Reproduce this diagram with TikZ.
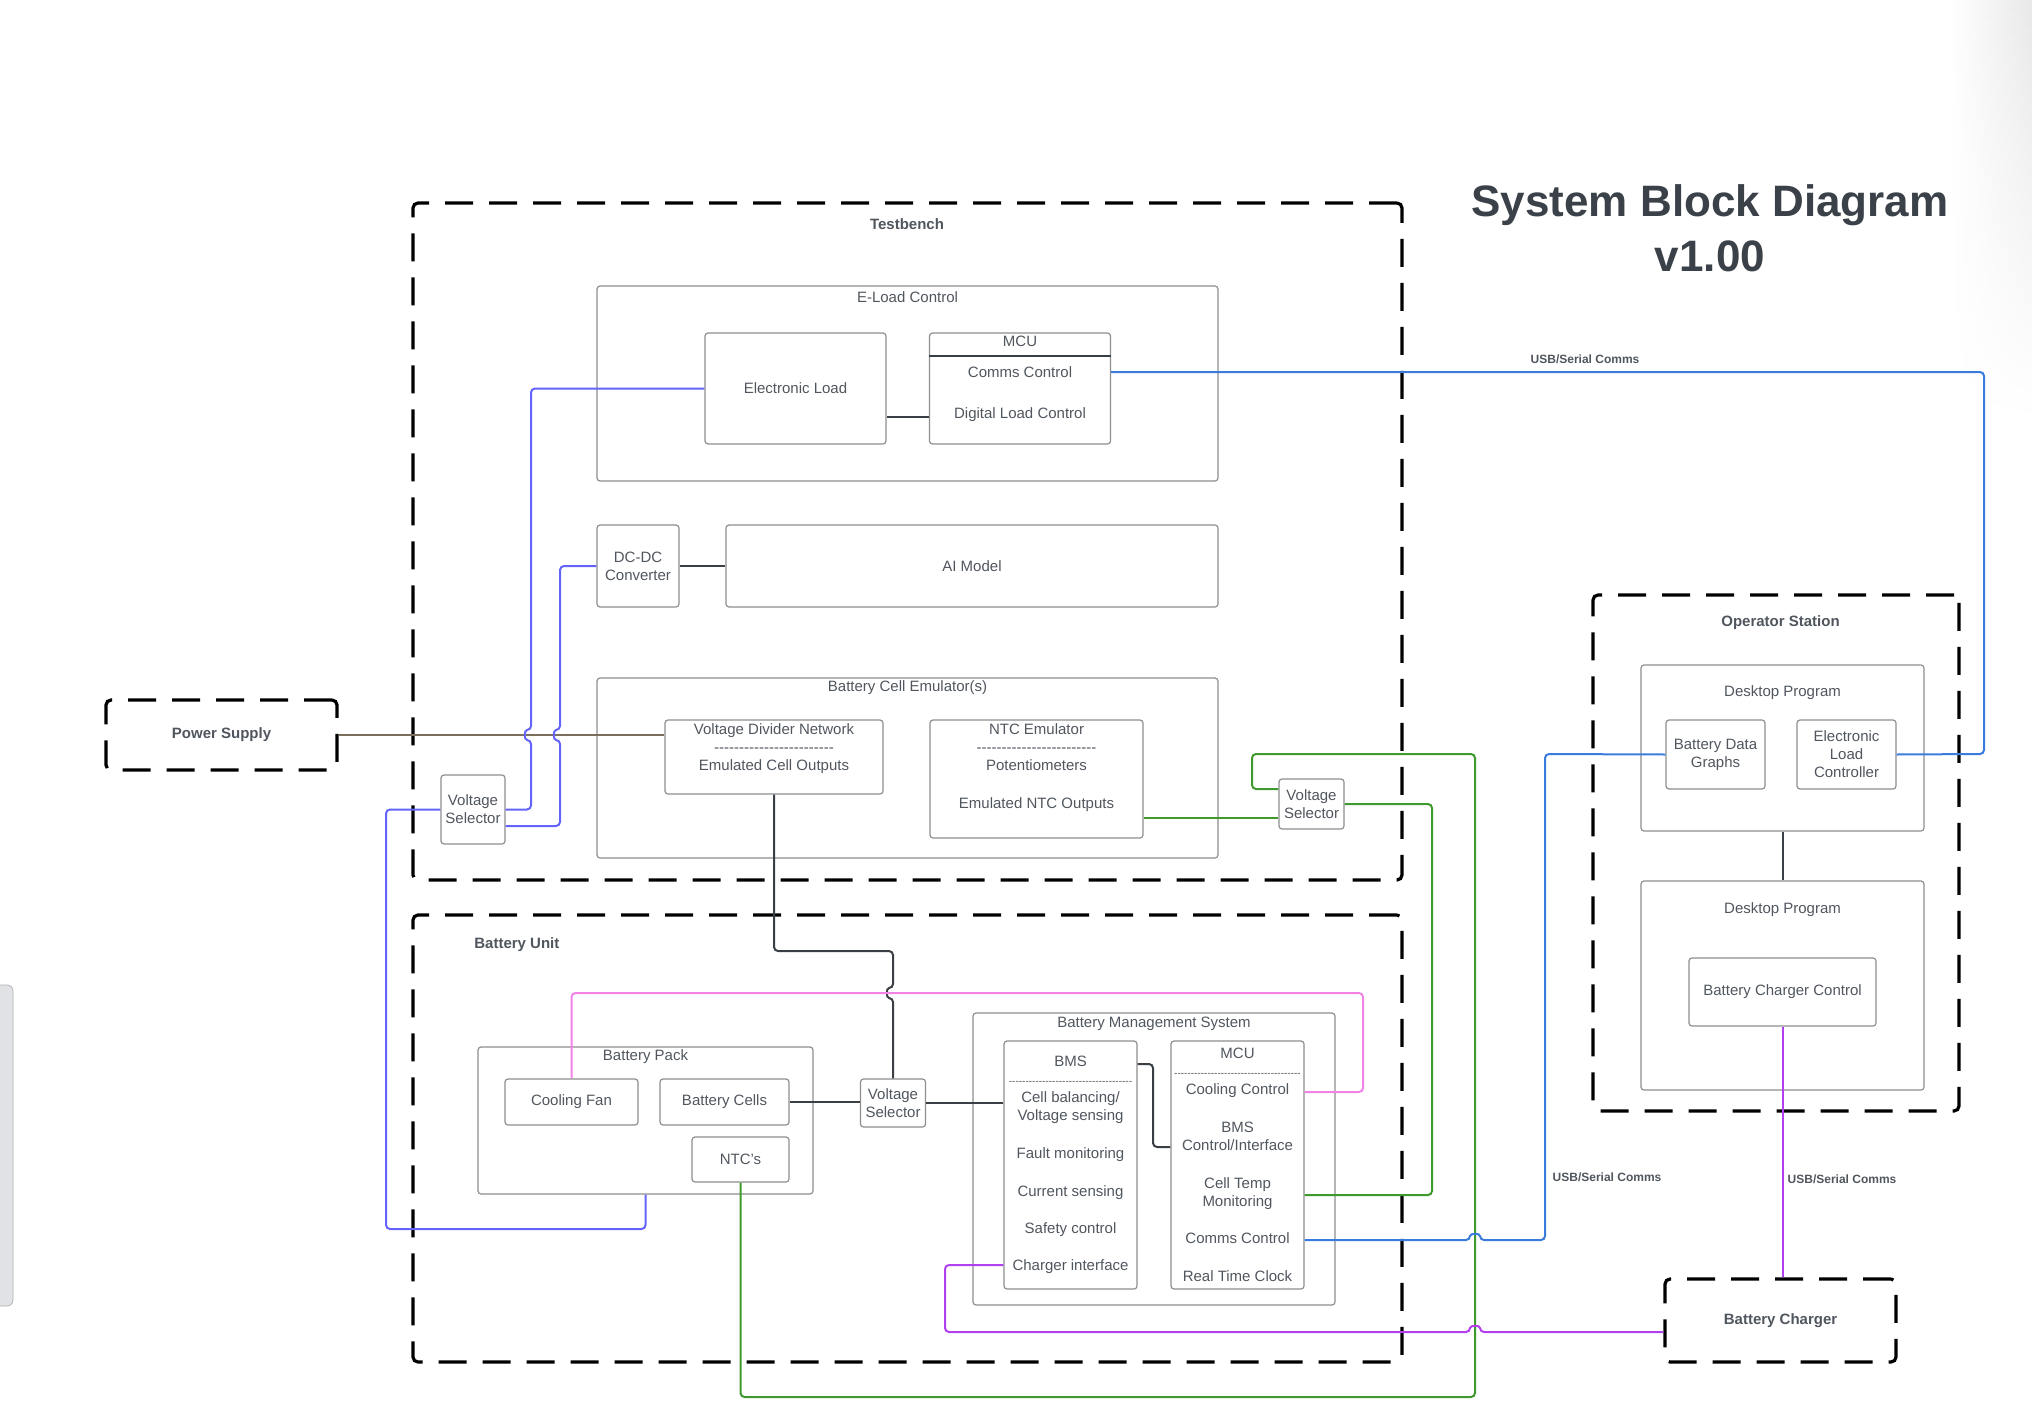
\documentclass[tikz,border=0pt]{standalone}
\usepackage{fontspec}
\setmainfont{Liberation Sans}
\usetikzlibrary{positioning,fadings}

\definecolor{txtgray}{HTML}{50565E}
\definecolor{titlegray}{HTML}{3B4149}
\definecolor{boxgray}{HTML}{8E8E8E}
\definecolor{linkgray}{HTML}{3A3F45}
\definecolor{pwrblue}{HTML}{6464FA}
\definecolor{usbblue}{HTML}{3A7BDE}
\definecolor{psbrown}{HTML}{7A6E5C}
\definecolor{ntcgreen}{HTML}{3F9A2E}
\definecolor{fanpink}{HTML}{F282E6}
\definecolor{chgpurple}{HTML}{B23FF0}
\definecolor{barfill}{HTML}{E0E2E6}

\tikzfading[name=fadedown, top color=transparent!0, bottom color=transparent!100]

\newcommand{\hyphens}[1]{\foreach \k in {1,...,#1}{-}}

\begin{document}
\begin{tikzpicture}[
    x=0.5pt, y=-0.5pt,
    font=\fontsize{7.5}{9}\selectfont,
    text=txtgray
]
	\tikzset{
	    mybox/.style = {draw=boxgray, line width=0.6pt, rounded corners=1.5pt, align=center, inner sep=1pt},
	    mygroup/.style = {draw=black, line width=1.6pt, dash pattern=on 14pt off 8pt, rounded corners=2.5pt, align=center, font=\fontsize{7.5}{9}\selectfont\bfseries},
	    mytext/.style = {align=center, inner sep=0pt},
	    mybold/.style = {mytext, font=\fontsize{7.5}{9}\selectfont\bfseries},
	    mycomms/.style = {mytext, font=\fontsize{6}{7}\selectfont\bfseries},
	    edgek/.style = {linkgray, line width=1pt, rounded corners=2pt},
	    edgep/.style = {pwrblue, line width=1pt, rounded corners=2pt},
	    edgeu/.style = {usbblue, line width=1pt, rounded corners=2pt},
	    edgeb/.style = {psbrown, line width=1pt},
	    edgeg/.style = {ntcgreen, line width=1pt, rounded corners=2pt},
	    edgef/.style = {fanpink, line width=1pt, rounded corners=2pt},
	    edgec/.style = {chgpurple, line width=1pt, rounded corners=2pt}
	}
	\useasboundingbox (0,0) rectangle (2032,1412);
	% page edges
	\shade[left color=white, right color=black!9, path fading=fadedown] (1950,0) rectangle (2032,420);
	\draw[draw=gray!60, fill=barfill, rounded corners=3pt] (-10,985) rectangle (13,1306);
	% title
	\node[mytext, text=titlegray, font=\fontsize{22}{27.5}\selectfont\bfseries] at (1710,228) (title) {System Block Diagram\\v1.00};
	% groups
	\node[mygroup, minimum width=494.5pt, minimum height=338.5pt] at (907.5,541.5) (testbench) {};
	\node[mybold] at (907,224) (testbenchLbl) {Testbench};
	\node[mygroup, minimum width=494.5pt, minimum height=223.5pt] at (907.5,1138.5) (battunit) {};
	\node[mybold, anchor=west] at (474,945) (battunitLbl) {Battery Unit};
	\node[mygroup, minimum width=183pt, minimum height=258pt] at (1776,853) (opstation) {};
	\node[mybold] at (1780.5,623) (opstationLbl) {Operator Station};
	\node[mygroup, minimum width=115.5pt, minimum height=35pt] at (221.5,735) (psu) {Power Supply};
	\node[mygroup, minimum width=115.5pt, minimum height=41.5pt] at (1780.5,1320.5) (charger) {Battery Charger};
	% testbench
	\node[mybox, minimum width=310.5pt, minimum height=97.5pt] at (907.5,383.5) (eloadctl) {};
	\node[mytext] at (907.5,297) (eloadctlLbl) {E-Load Control};
	\node[mybox, minimum width=90.5pt, minimum height=55.5pt] at (795.5,388.5) (eload) {Electronic Load};
	\node[mybox, minimum width=90.5pt, minimum height=55.5pt] at (1020,388.5) (mcuE) {};
	\node[mytext] at (1020,379) (mcuEtxt) {MCU\\[6.5pt]Comms Control\\[11.5pt]Digital Load Control};
	\draw[linkgray, line width=0.7pt] (mcuE.west |- 0,356) -- (mcuE.east |- 0,356);
	\node[mybox, minimum width=41pt, minimum height=41pt] at (638,566) (dcdc) {DC-DC\\Converter};
	\node[mybox, minimum width=246pt, minimum height=41pt] at (972,566) (aimodel) {AI Model};
	\node[mybox, minimum width=310.5pt, minimum height=90pt] at (907.5,768) (bce) {};
	\node[mytext] at (907.5,688) (bceLbl) {Battery Cell Emulator(s)};
	\node[mybox, minimum width=109pt, minimum height=37pt] at (774,757) (vdn) {};
	\node[mytext] at (774,748.5) (vdnTxt) {Voltage Divider Network\\\hyphens{24}\\Emulated Cell Outputs};
	\node[mybox, minimum width=106.5pt, minimum height=59pt] at (1036.5,779) (ntcEm) {};
	\node[mytext] at (1036.5,767.5) (ntcEmTxt) {NTC Emulator\\\hyphens{24}\\Potentiometers\\[10pt]Emulated NTC Outputs};
	\node[mybox, minimum width=32pt, minimum height=34.5pt] at (473,809.5) (vsPwr) {Voltage\\Selector};
	\node[mybox, minimum width=32.5pt, minimum height=25pt] at (1311.5,804) (vsNtc) {Voltage\\Selector};
	% battery unit
	\node[mybox, minimum width=167.5pt, minimum height=73.5pt] at (645.5,1120.5) (pack) {};
	\node[mytext] at (645.5,1057) (packLbl) {Battery Pack};
	\node[mybox, minimum width=66.5pt, minimum height=23pt] at (571.5,1102) (fan) {Cooling Fan};
	\node[mybox, minimum width=64.5pt, minimum height=23pt] at (724.5,1102) (cells) {Battery Cells};
	\node[mybox, minimum width=48.5pt, minimum height=22.5pt] at (740.5,1159.5) (ntcs) {NTC's};
	\node[mybox, minimum width=32.5pt, minimum height=24pt] at (893,1103) (vsBatt) {Voltage\\Selector};
	\node[mybox, minimum width=181pt, minimum height=146pt] at (1154,1159) (bmsys) {};
	\node[mytext] at (1154,1024) (bmsysLbl) {Battery Management System};
	\node[mybox, minimum width=66.5pt, minimum height=124pt] at (1070.5,1165) (bms) {BMS\\{\fontsize{5}{9}\selectfont\hyphens{37}}\\Cell balancing/\\Voltage sensing\\[10pt]Fault monitoring\\[10pt]Current sensing\\[9.5pt]Safety control\\[9.5pt]Charger interface};
	\node[mybox, minimum width=66.5pt, minimum height=124pt] at (1237.5,1165) (mcuB) {MCU\\{\fontsize{5}{9}\selectfont\hyphens{38}}\\Cooling Control\\[10pt]BMS\\Control/Interface\\[10pt]Cell Temp\\Monitoring\\[9.5pt]Comms Control\\[10pt]Real Time Clock};
	% operator station
	\node[mybox, minimum width=141.5pt, minimum height=83pt] at (1782.5,748) (desk1) {};
	\node[mytext] at (1782.5,693) (desk1Lbl) {Desktop Program};
	\node[mybox, minimum width=49.5pt, minimum height=34.5pt] at (1715.5,754.5) (graphs) {Battery Data\\Graphs};
	\node[mybox, minimum width=49.5pt, minimum height=34.5pt] at (1846.5,754.5) (elc) {Electronic\\Load\\Controller};
	\node[mybox, minimum width=141.5pt, minimum height=104.5pt] at (1782.5,985.5) (desk2) {};
	\node[mytext] at (1782.5,910) (desk2Lbl) {Desktop Program};
	\node[mybox, minimum width=93.5pt, minimum height=34pt] at (1782.5,992) (chgctl) {Battery Charger Control};
	% comms labels
	\node[mycomms] at (1585,359) (usbLbl1) {USB/Serial Comms};
	\node[mycomms] at (1607,1177) (usbLbl2) {USB/Serial Comms};
	\node[mycomms] at (1842,1179) (usbLbl3) {USB/Serial Comms};
	% power
	\draw[edgeb] (psu.east) -- (psu.east -| vdn.west);
	\draw[edgep] (eload.west) -| (531,730) .. controls (524,730) and (524,740) .. (531,740) |- (vsPwr.east);
	\draw[edgep] (dcdc.west) -| (560,730) .. controls (553,730) and (553,740) .. (560,740) |- (vsPwr.east |- 0,826);
	\draw[edgep] (vsPwr.west) -| (386,1229) -| (pack.south);
	% links
	\draw[edgek] (eload.east |- 0,417) -- (mcuE.west |- 0,417);
	\draw[edgek] (dcdc.east) -- (aimodel.west);
	\draw[edgek] (vdn.south) |- (893,951) -- (893,988) .. controls (886,988) and (886,998) .. (893,998) -- (vsBatt.north);
	\draw[edgek] (cells.east) -- (cells.east -| vsBatt.west);
	\draw[edgek] (vsBatt.east) -- (vsBatt.east -| bms.west);
	\draw[edgek] (bms.east |- 0,1064) -| (1153,1147) -- (mcuB.west |- 0,1147);
	\draw[edgek] (desk1.south) -- (desk2.north);
	% ntc
	\draw[edgeg] (ntcEm.east |- 0,818) -- (vsNtc.west |- 0,818);
	\draw[edgeg] (vsNtc.west |- 0,789) -| (1252,754) -| (1475,1397) -| (ntcs.south);
	\draw[edgeg] (vsNtc.east) -| (1432,1195) -- (mcuB.east |- 0,1195);
	% cooling
	\draw[edgef] (fan.north) |- (1363,993) |- (mcuB.east |- 0,1092);
	% comms
	\draw[edgeu] (mcuE.east |- 0,372) -| (1984,754) -- (elc.east);
	\draw[edgeu] (mcuB.east |- 0,1240) -- (1470,1240) .. controls (1470,1233) and (1480,1233) .. (1480,1240) -| (1545,754) -- (graphs.west);
	% charger
	\draw[edgec] (bms.west |- 0,1265) -| (945,1332) -- (1470,1332) .. controls (1470,1325) and (1480,1325) .. (1480,1332) -- (charger.west |- 0,1332);
	\draw[edgec] (chgctl.south) -- (chgctl.south |- charger.north);
\end{tikzpicture}
\end{document}
